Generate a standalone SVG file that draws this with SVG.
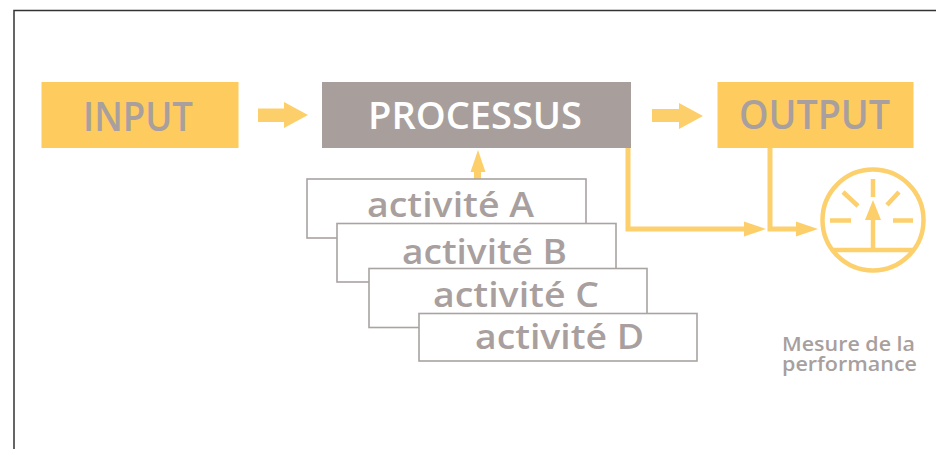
<svg xmlns="http://www.w3.org/2000/svg" width="936" height="449" viewBox="0 0 936 449">
<style>
.t{font-family:"Open Sans","Noto Sans",sans-serif;font-weight:600;fill:#a89f9e}
.box{fill:#fff;stroke:#a9a3a2;stroke-width:1.6}
.ln{fill:none;stroke:#fdd06e;stroke-width:5}
.ar{fill:#fdcf6a}
.m{fill:none;stroke:#fdd06e;stroke-width:4.500}
</style>
<rect width="936" height="449" fill="#fff"/>
<path d="M14 449V10.500H936" fill="none" stroke="#333" stroke-width="1.500"/>
<g id="connectors">
<polygon class="ar" points="258,108.500 284,108.500 284,102 308,115 284,128 284,122 258,122"/>
<polygon class="ar" points="652,109 679,109 679,103 703,116 679,129 679,122 652,122"/>
<polygon class="ar" points="474,179 474,172 470.500,172 478,150 485.500,172 481,172 481,179"/>
<path class="ln" d="M628 148V229H746"/>
<polygon class="ar" points="744,221.500 766,229 744,236.500"/>
<path class="ln" d="M770 148V229H798"/>
<polygon class="ar" points="796,221.500 818,229 796,236.500"/>
</g>
<g id="input"><rect x="41.500" y="82" width="197" height="66" fill="#fdcb5e"/><text class="t" x="83" y="131" font-size="40" textLength="110" lengthAdjust="spacingAndGlyphs">INPUT</text></g>
<g id="processus"><rect x="322" y="82" width="309" height="66" fill="#a89f9d"/><text class="t" x="368" y="129" font-size="37" textLength="214" lengthAdjust="spacingAndGlyphs" style="fill:#fff">PROCESSUS</text></g>
<g id="output"><rect x="717.500" y="82" width="196" height="66" fill="#fdcb5e"/><text class="t" x="739" y="129" font-size="39" textLength="151" lengthAdjust="spacingAndGlyphs">OUTPUT</text></g>
<g id="activite-a"><rect class="box" x="307" y="179" width="279" height="59"/><text class="t" x="367" y="217" font-size="35" textLength="167" lengthAdjust="spacingAndGlyphs">activité A</text></g>
<g id="activite-b"><rect class="box" x="337" y="223.500" width="279" height="58.500"/><text class="t" x="402" y="264" font-size="35" textLength="165" lengthAdjust="spacingAndGlyphs">activité B</text></g>
<g id="activite-c"><rect class="box" x="369" y="268.500" width="278" height="59"/><text class="t" x="433" y="307" font-size="35" textLength="166" lengthAdjust="spacingAndGlyphs">activité C</text></g>
<g id="activite-d"><rect class="box" x="419" y="313.500" width="278" height="47.500"/><text class="t" x="475" y="349" font-size="35" textLength="169" lengthAdjust="spacingAndGlyphs">activité D</text></g>
<g id="gauge">
<circle class="m" cx="873" cy="220" r="50.500"/>
<path class="m" d="M873 179V197M830 220.500H851M893 220.500H913M843 192L858 206M899 192L887 205M873 218V250M833 250H913"/>
<polygon class="ar" points="873,200 881,220 865,220"/>
</g>
<g id="mesure"><text class="t" x="782" y="351" font-size="20" textLength="133" lengthAdjust="spacingAndGlyphs">Mesure de la</text><text class="t" x="782" y="371" font-size="20" textLength="135" lengthAdjust="spacingAndGlyphs">performance</text></g>
</svg>
